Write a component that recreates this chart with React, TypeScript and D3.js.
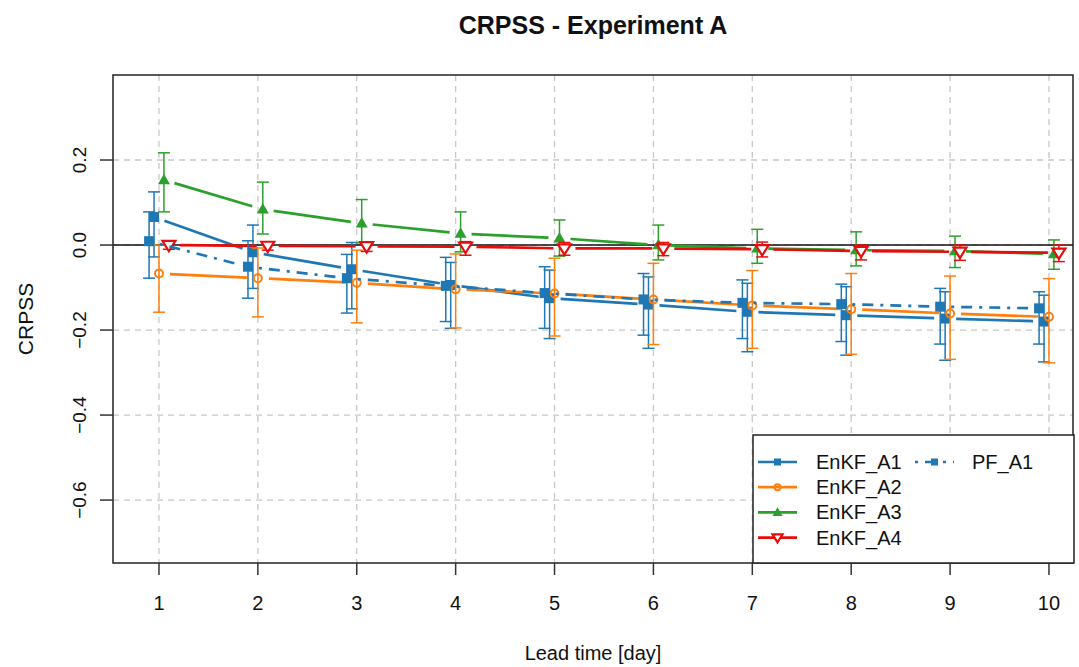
import React, { useEffect, useRef } from 'react'
import * as d3 from 'd3'

// lead time in days
const days = [1, 2, 3, 4, 5, 6, 7, 8, 9, 10]
const xTicks = [1, 2, 3, 4, 5, 6, 7, 8, 9, 10]
const yTicks = [-0.6, -0.4, -0.2, 0.0, 0.2]

const seriesNames = ['EnKF_A1', 'EnKF_A2', 'EnKF_A3', 'EnKF_A4', 'PF_A1']

// CRPSS values and error bar ends
const enkfA1 = [0.066, -0.017, -0.057, -0.094, -0.125, -0.14, -0.157, -0.165, -0.173, -0.18]
const enkfA1Upper = [0.125, 0.047, 0.006, -0.041, -0.059, -0.075, -0.09, -0.098, -0.11, -0.118]
const enkfA1Lower = [-0.028, -0.102, -0.15, -0.196, -0.22, -0.243, -0.251, -0.259, -0.271, -0.275]

const enkfA2 = [-0.067, -0.078, -0.089, -0.104, -0.114, -0.128, -0.142, -0.151, -0.161, -0.169]
const enkfA2Upper = [0.0, -0.007, -0.012, -0.021, -0.031, -0.043, -0.06, -0.067, -0.073, -0.079]
const enkfA2Lower = [-0.158, -0.169, -0.183, -0.195, -0.214, -0.234, -0.243, -0.257, -0.269, -0.277]

const enkfA3 = [0.153, 0.084, 0.051, 0.027, 0.016, 0.0, -0.008, -0.012, -0.014, -0.021]
const enkfA3Upper = [0.217, 0.148, 0.107, 0.078, 0.059, 0.047, 0.037, 0.031, 0.021, 0.012]
const enkfA3Lower = [0.078, 0.026, 0.005, -0.016, -0.026, -0.035, -0.043, -0.049, -0.053, -0.057]

const enkfA4 = [0.0, -0.002, -0.003, -0.004, -0.008, -0.008, -0.01, -0.014, -0.016, -0.018]
const enkfA4Upper = [0.006, 0.006, 0.007, 0.008, 0.006, 0.006, 0.007, 0.0, 0.0, 0.0]
const enkfA4Lower = [-0.01, -0.012, -0.015, -0.024, -0.024, -0.025, -0.028, -0.035, -0.036, -0.039]

const pfA1 = [0.009, -0.051, -0.078, -0.096, -0.113, -0.128, -0.136, -0.139, -0.145, -0.149]
const pfA1Upper = [0.078, 0.01, -0.022, -0.029, -0.051, -0.067, -0.082, -0.092, -0.102, -0.11]
const pfA1Lower = [-0.078, -0.125, -0.16, -0.18, -0.196, -0.212, -0.22, -0.227, -0.233, -0.233]

const W = 1079
const H = 667
const FONT = '"Liberation Sans", Arial, sans-serif'

type Shape = 'square' | 'circle' | 'triangle' | 'down'

function drawMarker (g: any, shape: Shape, cx: number, cy: number, color: string, s: number) {
  if (shape === 'square') {
    g.append('rect').attr('x', cx - s / 2).attr('y', cy - s / 2)
      .attr('width', s).attr('height', s).attr('fill', color)
  } else if (shape === 'circle') {
    g.append('circle').attr('cx', cx).attr('cy', cy).attr('r', s / 2 - 1)
      .attr('fill', 'none').attr('stroke', color).attr('stroke-width', 2)
  } else if (shape === 'triangle') {
    const h = s * 0.87
    g.append('path')
      .attr('d', `M${cx},${cy - h * 0.6}L${cx + s / 2},${cy + h * 0.4}L${cx - s / 2},${cy + h * 0.4}Z`)
      .attr('fill', color)
  } else {
    const h = s * 0.8
    g.append('path')
      .attr('d', `M${cx},${cy + h * 0.6}L${cx + s / 2},${cy - h * 0.4}L${cx - s / 2},${cy - h * 0.4}Z`)
      .attr('fill', 'white').attr('stroke', color).attr('stroke-width', 2.2)
  }
}

export default function App () {
  const ref = useRef<SVGSVGElement>(null)

  useEffect(() => {
    const svg = d3.select(ref.current)
    svg.selectAll('*').remove()

    const left = 113
    const right = 1073
    const top = 75
    const bottom = 563

    const x = d3.scaleLinear().domain([0.535, 10.243]).range([left, right])
    const y = d3.scaleLinear().domain([-0.748, 0.4]).range([bottom, top])

    const series = [
      { name: seriesNames[0], v: enkfA1, lo: enkfA1Lower, hi: enkfA1Upper, color: '#1f77b4', shape: 'square' as Shape, dash: null, off: -0.05, size: 10 },
      { name: seriesNames[1], v: enkfA2, lo: enkfA2Lower, hi: enkfA2Upper, color: '#ff7f0e', shape: 'circle' as Shape, dash: null, off: 0, size: 10 },
      { name: seriesNames[2], v: enkfA3, lo: enkfA3Lower, hi: enkfA3Upper, color: '#2ca02c', shape: 'triangle' as Shape, dash: null, off: 0.05, size: 12 },
      { name: seriesNames[3], v: enkfA4, lo: enkfA4Lower, hi: enkfA4Upper, color: '#e60d0d', shape: 'down' as Shape, dash: null, off: 0.1, size: 13 },
      { name: seriesNames[4], v: pfA1, lo: pfA1Lower, hi: pfA1Upper, color: '#1f77b4', shape: 'square' as Shape, dash: '3,7,11,7', off: -0.1, size: 10 }
    ]

    // grid
    const grid = svg.append('g')
    xTicks.forEach(t => {
      grid.append('line').attr('x1', x(t)).attr('x2', x(t)).attr('y1', top).attr('y2', bottom)
        .attr('stroke', '#c8c8c8').attr('stroke-width', 1.3).attr('stroke-dasharray', '6,5')
    })
    yTicks.forEach(t => {
      grid.append('line').attr('x1', left).attr('x2', right).attr('y1', y(t)).attr('y2', y(t))
        .attr('stroke', '#c8c8c8').attr('stroke-width', 1.3).attr('stroke-dasharray', '6,5')
    })

    // zero line
    svg.append('line').attr('x1', left).attr('x2', right).attr('y1', y(0)).attr('y2', y(0))
      .attr('stroke', '#111').attr('stroke-width', 1.5)

    const gap = 11
    series.forEach(s => {
      const g = svg.append('g')
      const pts = days.map((d, i) => [x(d + s.off), y(s.v[i])])
      // lines with gaps around the points
      for (let i = 0; i < pts.length - 1; i++) {
        const [x0, y0] = pts[i]
        const [x1, y1] = pts[i + 1]
        const len = Math.hypot(x1 - x0, y1 - y0)
        const ux = (x1 - x0) / len
        const uy = (y1 - y0) / len
        const seg = g.append('line')
          .attr('x1', x0 + ux * gap).attr('y1', y0 + uy * gap)
          .attr('x2', x1 - ux * gap).attr('y2', y1 - uy * gap)
          .attr('stroke', s.color).attr('stroke-width', 2.7)
        if (s.dash) seg.attr('stroke-dasharray', s.dash)
      }
      // error bars
      days.forEach((d, i) => {
        const cx = x(d + s.off)
        g.append('line').attr('x1', cx).attr('x2', cx).attr('y1', y(s.hi[i])).attr('y2', y(s.lo[i]))
          .attr('stroke', s.color).attr('stroke-width', 1.5)
        ;[s.hi[i], s.lo[i]].forEach(val => {
          g.append('line').attr('x1', cx - 6).attr('x2', cx + 6).attr('y1', y(val)).attr('y2', y(val))
            .attr('stroke', s.color).attr('stroke-width', 1.5)
        })
      })
      pts.forEach(p => drawMarker(g, s.shape, p[0], p[1], s.color, s.size))
    })

    // box
    svg.append('rect').attr('x', left).attr('y', top).attr('width', right - left).attr('height', bottom - top)
      .attr('fill', 'none').attr('stroke', '#222').attr('stroke-width', 1.5)

    // axes
    xTicks.forEach(t => {
      svg.append('line').attr('x1', x(t)).attr('x2', x(t)).attr('y1', bottom).attr('y2', bottom + 12)
        .attr('stroke', '#333').attr('stroke-width', 1.5)
      svg.append('text').attr('x', x(t)).attr('y', 610).attr('text-anchor', 'middle')
        .attr('font-family', FONT).attr('font-size', 20).attr('fill', '#111').text(String(t))
    })
    yTicks.forEach(t => {
      svg.append('line').attr('x1', left - 13).attr('x2', left).attr('y1', y(t)).attr('y2', y(t))
        .attr('stroke', '#333').attr('stroke-width', 1.5)
      svg.append('text').attr('transform', `translate(86,${y(t)}) rotate(-90)`).attr('text-anchor', 'middle')
        .attr('font-family', FONT).attr('font-size', 19).attr('fill', '#111').text(d3.format('.1f')(t))
    })

    svg.append('text').attr('x', (left + right) / 2).attr('y', 34).attr('text-anchor', 'middle')
      .attr('font-family', FONT).attr('font-size', 25).attr('font-weight', 'bold').attr('fill', '#111')
      .text('CRPSS - Experiment A')
    svg.append('text').attr('x', (left + right) / 2).attr('y', 660).attr('text-anchor', 'middle')
      .attr('font-family', FONT).attr('font-size', 20).attr('fill', '#111').text('Lead time [day]')
    svg.append('text').attr('transform', `translate(33,${(top + bottom) / 2}) rotate(-90)`).attr('text-anchor', 'middle')
      .attr('font-family', FONT).attr('font-size', 21).attr('fill', '#111').text('CRPSS')

    // legend
    const lg = svg.append('g')
    lg.append('rect').attr('x', 753).attr('y', 435).attr('width', 321).attr('height', 128)
      .attr('fill', 'white').attr('stroke', '#222').attr('stroke-width', 1.5)
    series.forEach((s, i) => {
      const col = i < 4 ? 0 : 1
      const row = i < 4 ? i : 0
      const lx = col === 0 ? 758 : 915
      const cy = 462 + row * 25.2
      const l = lg.append('line').attr('x1', lx).attr('x2', lx + 39).attr('y1', cy).attr('y2', cy)
        .attr('stroke', s.color).attr('stroke-width', 2.7)
      if (s.dash) l.attr('stroke-dasharray', s.dash)
      drawMarker(lg, s.shape, lx + 19.5, cy, s.color, s.shape === 'square' ? 7 : s.shape === 'circle' ? 8 : 10)
      lg.append('text').attr('x', col === 0 ? 816 : 972).attr('y', cy + 7)
        .attr('font-family', FONT).attr('font-size', 20).attr('fill', '#111').text(s.name)
    })
  }, [])

  return (
    <div>
      <svg ref={ref} width={W} height={H} style={{ position: 'absolute', left: 0, top: 0, background: 'white' }} />
    </div>
  )
}
